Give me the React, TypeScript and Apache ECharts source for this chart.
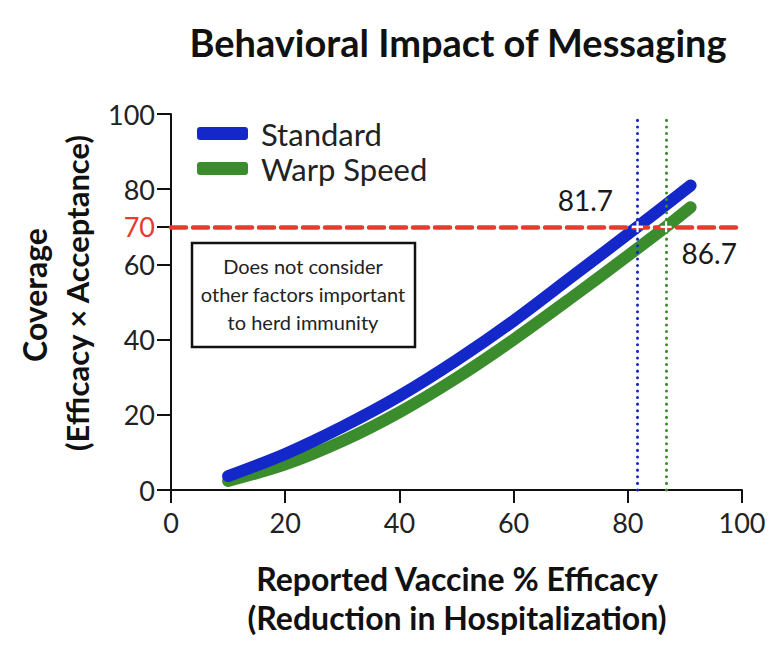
import React, { useEffect, useRef } from "react";
import * as echarts from "echarts";

const standardX = [10, 20, 30, 40, 50, 60, 70, 81.7, 91];
const standardY = [3.7, 9.6, 16.8, 25, 34.5, 45, 56.5, 70, 81];
const warpX = [10, 20, 30, 40, 50, 60, 70, 80, 86.7, 91];
const warpY = [2.4, 6.8, 13, 20.7, 29.8, 40, 51, 62.3, 70, 75.2];
const thresholdY = 70;
const standardCross = 81.7;
const warpCross = 86.7;
const yTicks = [0, 20, 40, 60, 70, 80, 100];

const BLUE = "#1427c9";
const GREEN = "#3b8c2c";
const RED = "#e63b2e";
const FONT = "Lato, 'Noto Sans', sans-serif";

export default function App() {
  const ref = useRef<HTMLDivElement>(null);
  useEffect(() => {
    if (!ref.current) return;
    const chart = echarts.init(ref.current, null, { renderer: "svg" });
    const pairs = (xs: number[], ys: number[]) => xs.map((x, i) => [x, ys[i]]);
    const crossLabel = {
      show: true,
      fontFamily: FONT,
      fontSize: 28,
      color: "#1a1a1a",
      textBorderWidth: 0,
    };
    chart.setOption({
      animation: false,
      backgroundColor: "#ffffff",
      grid: { left: 171, right: 34, top: 114, bottom: 156 },
      legend: {
        data: ["Standard", "Warp Speed"],
        orient: "vertical",
        left: 192,
        top: 113,
        itemWidth: 51,
        itemHeight: 13,
        itemGap: 4,
        icon: "roundRect",
        textStyle: { fontFamily: FONT, fontSize: 31, color: "#222", padding: [0, 0, 0, 8] },
      },
      xAxis: {
        type: "value",
        min: 0,
        max: 100,
        interval: 20,
        splitLine: { show: false },
        axisLine: { lineStyle: { color: "#111", width: 2 } },
        axisTick: { length: 13, lineStyle: { color: "#111", width: 2 } },
        axisLabel: { fontFamily: FONT, fontSize: 27, color: "#222", margin: 19 },
      },
      yAxis: {
        type: "value",
        min: 0,
        max: 100,
        splitLine: { show: false },
        axisLine: { show: true, lineStyle: { color: "#111", width: 2 } },
        axisTick: { show: true, length: 14, customValues: yTicks, lineStyle: { color: "#111", width: 2 } },
        axisLabel: {
          fontFamily: FONT,
          fontSize: 27,
          color: "#222",
          margin: 16,
          customValues: yTicks,
          formatter: (v: number) => (v === thresholdY ? "{r|" + v + "}" : String(v)),
          rich: { r: { color: RED, fontFamily: FONT, fontSize: 27 } },
        },
      },
      series: [
        {
          name: "Standard",
          type: "line",
          smooth: 0.3,
          showSymbol: false,
          symbol: "none",
          color: BLUE,
          lineStyle: { width: 12, color: BLUE, cap: "round", join: "round" },
          data: pairs(standardX, standardY),
          z: 3,
          markLine: {
            silent: true,
            symbol: "none",
            label: { show: false },
            data: [
              [
                { coord: [0, thresholdY], lineStyle: { color: RED, width: 4.5, type: [15, 7], cap: "round" } },
                { coord: [100, thresholdY] },
              ],
              [
                { coord: [standardCross, 0], lineStyle: { color: BLUE, width: 3, type: [0.1, 6.5], cap: "round" } },
                { coord: [standardCross, 100] },
              ],
              [
                { coord: [warpCross, 0], lineStyle: { color: GREEN, width: 3, type: [0.1, 6.5], cap: "round" } },
                { coord: [warpCross, 100] },
              ],
            ],
          },
        },
        {
          name: "Warp Speed",
          type: "line",
          smooth: 0.3,
          showSymbol: false,
          symbol: "none",
          color: GREEN,
          lineStyle: { width: 12, color: GREEN, cap: "round", join: "round" },
          data: pairs(warpX, warpY),
          z: 2,
        },
        {
          name: "crossings",
          type: "scatter",
          symbol: "path://M4,0h2v4h4v2h-4v4h-2v-4h-4v-2h4z",
          symbolSize: 11,
          itemStyle: { color: "#ffffff", opacity: 1 },
          z: 5,
          data: [
            {
              value: [standardCross, thresholdY],
              label: { ...crossLabel, formatter: String(standardCross), position: "left", distance: 19, offset: [0, -27] },
            },
            {
              value: [warpCross, thresholdY],
              label: { ...crossLabel, formatter: String(warpCross), position: "right", distance: 10, offset: [0, 26] },
            },
          ],
        },
      ],
      graphic: [
        {
          type: "text",
          x: 458,
          y: 42,
          style: {
            text: "Behavioral Impact of Messaging",
            align: "center",
            verticalAlign: "middle",
            fontFamily: FONT,
            fontWeight: "bold",
            fontSize: 38,
            fill: "#111",
          },
        },
        {
          type: "rect",
          shape: { x: 192, y: 243, width: 223, height: 104 },
          style: { fill: "#fff", stroke: "#111", lineWidth: 2.5 },
          z: 10,
        },
        {
          type: "text",
          x: 303,
          y: 294,
          style: {
            text: "Does not consider\nother factors important\nto herd immunity",
            align: "center",
            verticalAlign: "middle",
            fontFamily: FONT,
            fontSize: 20,
            lineHeight: 28,
            fill: "#222",
          },
          z: 11,
        },
        {
          type: "text",
          x: 457,
          y: 578,
          style: {
            text: "Reported Vaccine % Efficacy",
            align: "center",
            verticalAlign: "middle",
            fontFamily: FONT,
            fontWeight: "bold",
            fontSize: 32,
            fill: "#111",
          },
        },
        {
          type: "text",
          x: 457,
          y: 617,
          style: {
            text: "(Reduction in Hospitalization)",
            align: "center",
            verticalAlign: "middle",
            fontFamily: FONT,
            fontWeight: "bold",
            fontSize: 32,
            fill: "#111",
          },
        },
        {
          type: "text",
          x: 34,
          y: 295,
          rotation: Math.PI / 2,
          style: {
            text: "Coverage",
            align: "center",
            verticalAlign: "middle",
            fontFamily: FONT,
            fontWeight: "bold",
            fontSize: 32,
            fill: "#111",
          },
        },
        {
          type: "text",
          x: 77,
          y: 293,
          rotation: Math.PI / 2,
          style: {
            text: "(Efficacy × Acceptance)",
            align: "center",
            verticalAlign: "middle",
            fontFamily: FONT,
            fontWeight: "bold",
            fontSize: 31,
            fill: "#111",
          },
        },
      ],
    });
    return () => chart.dispose();
  }, []);
  return (
    <div
      ref={ref}
      style={{ position: "absolute", left: 0, top: 0, width: 776, height: 646 }}
    />
  );
}
